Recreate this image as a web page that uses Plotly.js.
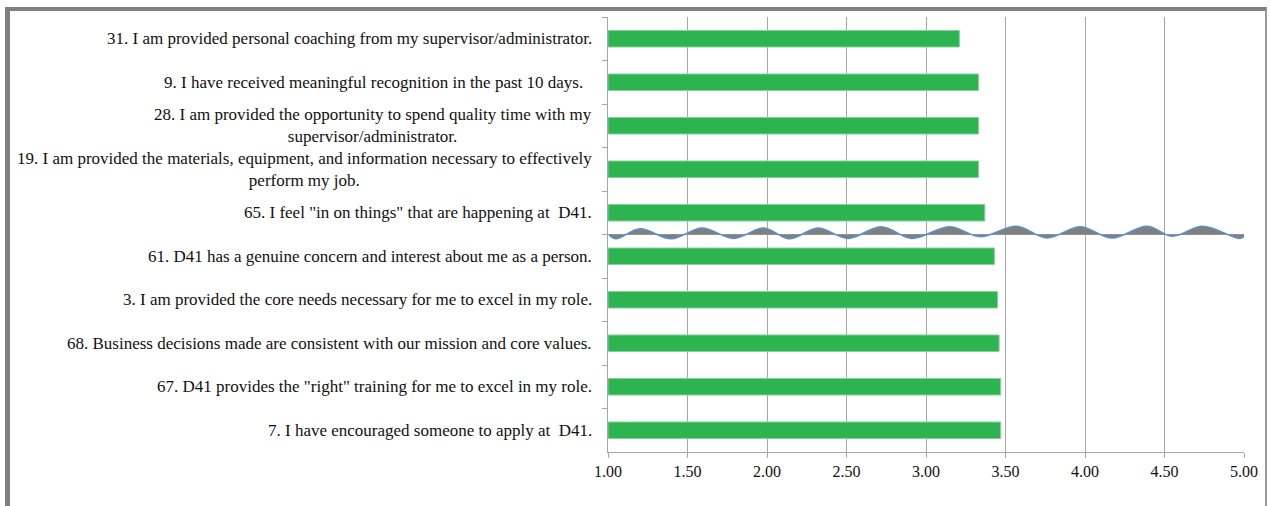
<!DOCTYPE html>
<html>
<head>
<meta charset="utf-8">
<script src="https://cdn.plot.ly/plotly-3.0.1.min.js"></script>
<style>
  html, body { margin: 0; padding: 0; background: #fff; overflow: hidden; }
  #wrap { position: relative; width: 1270px; height: 506px; }
  #chart { position: absolute; left: 0; top: 0; width: 1270px; height: 506px; }
  #frame { position: absolute; left: 5px; top: 7px; width: 1255px; height: 520px;
           border-left: 5px solid #808080; border-top: 4px solid #808080; border-right: 2px solid #9a9a9a;
           pointer-events: none; }
</style>
</head>
<body>
<div id="wrap">
  <div id="chart"></div>
  <div id="frame"></div>
</div>
<script>
// Categories (top to bottom)
const categories = [
  "31. I am provided personal coaching from my supervisor/administrator.",
  "9. I have received meaningful recognition in the past 10 days.\u00a0\u00a0",
  "28. I am provided the opportunity to spend quality time with my<br>supervisor/administrator.",
  "19. I am provided the materials, equipment, and information necessary to effectively<br>perform my job.",
  "65. I feel \"in on things\" that are happening at \u00a0D41.",
  "61. D41 has a genuine concern and interest about me as a person.",
  "3. I am provided the core needs necessary for me to excel in my role.",
  "68. Business decisions made are consistent with our mission and core values.",
  "67. D41 provides the \"right\" training for me to excel in my role.",
  "7. I have encouraged someone to apply at \u00a0D41."
];
const scores = [3.21, 3.33, 3.33, 3.33, 3.37, 3.43, 3.45, 3.46, 3.47, 3.47];

// Decorative wave separator: x in score units, y offset in category units
const waveX = [1.006, 1.05, 1.20, 1.40, 1.59, 1.79, 1.98, 2.14, 2.32, 2.51, 2.72, 2.91, 3.15, 3.34, 3.57, 3.76, 3.97, 4.17, 4.39, 4.55, 4.74, 4.97, 5.00];
const waveY = [-0.01, -0.10, 0.13, -0.10, 0.15, -0.09, 0.15, -0.10, 0.15, -0.09, 0.18, -0.09, 0.18, -0.05, 0.19, -0.08, 0.18, -0.08, 0.19, -0.04, 0.19, -0.09, -0.05];

const xTicks = [1.0, 1.5, 2.0, 2.5, 3.0, 3.5, 4.0, 4.5, 5.0];

const serif = "Liberation Serif";

const traces = [
  {
    type: 'bar',
    orientation: 'h',
    y: categories,
    x: scores.map(v => v - 1),
    base: 1,
    width: 0.38,
    marker: { color: '#2db350', line: { color: '#86d39a', width: 1 } },
    hoverinfo: 'none'
  },
  {
    type: 'scatter',
    mode: 'lines',
    x: waveX,
    y: waveY,
    yaxis: 'y2',
    line: { shape: 'spline', smoothing: 1, color: '#5b8fd2', width: 1.5 },
    fill: 'tozeroy',
    fillcolor: '#7f7f7f',
    hoverinfo: 'none'
  }
];

const annotations = categories.map((c, i) => ({
  xref: 'paper', yref: 'y',
  x: 0, y: i,
  xanchor: 'right', yanchor: 'middle',
  xshift: -14,
  align: 'center',
  showarrow: false,
  text: c,
  font: { family: serif, size: 17, color: '#111111' }
}));

const layout = {
  width: 1270, height: 506,
  margin: { l: 608, r: 26, t: 17, b: 54, pad: 0 },
  paper_bgcolor: '#ffffff',
  plot_bgcolor: '#ffffff',
  showlegend: false,
  font: { family: serif },
  xaxis: {
    range: [1, 5],
    tickvals: xTicks,
    ticktext: xTicks.map(v => v.toFixed(2)),
    showgrid: true, gridcolor: '#a6a6a6', gridwidth: 1,
    showline: true, linecolor: '#a6a6a6', linewidth: 1,
    ticks: 'outside', ticklen: 5, tickcolor: '#a6a6a6',
    zeroline: false,
    tickfont: { family: serif, size: 16, color: '#111111' },
    fixedrange: true
  },
  yaxis: {
    type: 'category',
    autorange: 'reversed',
    tickson: 'boundaries',
    showticklabels: false,
    showgrid: false,
    showline: true, linecolor: '#a6a6a6', linewidth: 1,
    ticks: 'outside', ticklen: 5, tickcolor: '#a6a6a6',
    zeroline: false,
    fixedrange: true
  },
  yaxis2: {
    overlaying: 'y',
    range: [-5, 5],
    showticklabels: false,
    showgrid: false,
    zeroline: true, zerolinecolor: '#a6a6a6', zerolinewidth: 1.5,
    ticks: '',
    fixedrange: true
  },
  annotations: annotations
};

Plotly.newPlot('chart', traces, layout, { displayModeBar: false, staticPlot: true });
</script>
</body>
</html>
